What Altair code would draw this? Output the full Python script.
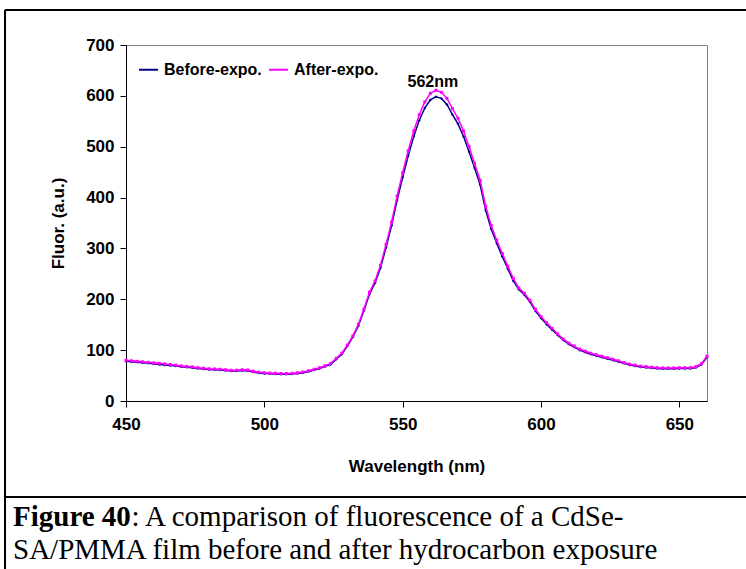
import altair as alt
import pandas as pd

# ---------------- data ----------------
wavelength = list(range(450, 661, 2))

before = [78, 77, 76, 75, 74, 73, 72, 71, 70, 69,
          67.5, 66.5, 65.5, 64, 63, 62, 61.5, 61, 60, 59,
          59, 60, 59.5, 57, 55, 54, 53.5, 53, 52.5, 52.5,
          53, 54, 55.5, 58, 61, 64, 68, 72, 82, 92,
          108, 126, 148, 178, 210, 232, 262, 302, 345, 395,
          440, 482, 520, 552, 576, 592, 598, 595, 583, 563,
          545, 520, 490, 458, 425, 375, 338, 310, 284, 260,
          236, 219, 209, 195, 177, 163, 151, 140, 130, 120,
          112, 106, 100, 96, 92, 89, 86, 83, 80, 77,
          74, 71, 69, 67, 66, 65, 64, 63.5, 63.5, 63.5,
          64, 64, 64, 66, 72, 86]

after = [80, 79, 78, 77, 76, 75, 74, 73, 72, 70.5,
         69, 68, 67, 65.5, 64.5, 63.5, 63, 62.5, 61.5, 60.5,
         60.5, 61.5, 61, 58.5, 56.5, 55.5, 55, 54.5, 54, 54,
         54.5, 55.5, 57, 59.5, 62.5, 65.5, 69.5, 74, 84, 94,
         110, 128, 151, 181, 214, 236, 267, 308, 352, 403,
         449, 492, 531, 563, 588, 605, 611, 607, 595, 575,
         556, 531, 500, 467, 434, 383, 345, 316, 290, 265,
         241, 222, 212, 198, 180, 166, 154, 143, 132, 122,
         114, 108, 102, 98, 94, 91, 88, 85, 82, 79,
         75.5, 72.5, 70.5, 68.5, 67.5, 66.5, 65.5, 65, 65, 65,
         65.5, 65.5, 65.5, 67.5, 73.5, 88]

series_names = ["Before-expo.", "After-expo."]
series_colors = ["#000080", "#FF00FF"]
series_shapes = ["diamond", "square"]

x_ticks = [450, 500, 550, 600, 650]
y_ticks = [0, 100, 200, 300, 400, 500, 600, 700]

peak_wavelength = [562]
peak_value = [628]
peak_text = ["562nm"]

caption_bold = "Figure 40"
caption_rest = ": A comparison of fluorescence of a CdSe-"
caption_line2 = "SA/PMMA film before and after hydrocarbon exposure"

# ---------------- layout ----------------
W, H = 581, 356
PAD_L, PAD_T = 126, 45
SANS = "Liberation Sans"
SERIF = "Liberation Serif"

n = len(wavelength)
df = pd.DataFrame({
    "Wavelength": wavelength * 2,
    "Fluor": before + after,
    "Series": [series_names[0]] * n + [series_names[1]] * n,
})
peak_df = pd.DataFrame({"Wavelength": peak_wavelength, "Fluor": peak_value, "label": peak_text})

x_scale = alt.Scale(domain=[450, 660], nice=False, zero=False)
y_scale = alt.Scale(domain=[0, 700], nice=False)

x_enc = alt.X("Wavelength:Q", scale=x_scale,
              axis=alt.Axis(title="Wavelength (nm)", values=x_ticks, format="d",
                            labelFont=SANS, labelFontSize=17, labelFontWeight="bold",
                            labelColor="black", labelPadding=9,
                            titleFont=SANS, titleFontSize=17, titleFontWeight="bold",
                            titleColor="black", titlePadding=26,
                            tickSize=6, tickColor="black", domainColor="black",
                            grid=False, labelFlush=False))
y_enc = alt.Y("Fluor:Q", scale=y_scale,
              axis=alt.Axis(title="Fluor. (a.u.)", values=y_ticks, format="d",
                            labelFont=SANS, labelFontSize=17, labelFontWeight="bold",
                            labelColor="black", labelPadding=6,
                            titleFont=SANS, titleFontSize=17, titleFontWeight="bold",
                            titleColor="black", titlePadding=18,
                            tickSize=6, tickColor="black", domainColor="black",
                            grid=False, labelFlush=False))
color_enc = alt.Color("Series:N",
                      scale=alt.Scale(domain=series_names, range=series_colors),
                      legend=alt.Legend(title=None, orient="none", legendX=12, legendY=14,
                                        direction="horizontal", symbolType="stroke",
                                        symbolSize=360, symbolStrokeWidth=2,
                                        labelFont=SANS, labelFontSize=16,
                                        labelFontWeight="bold", labelColor="black",
                                        labelOffset=5, columnPadding=3))

layers = []
for name, shp in zip(series_names, series_shapes):
    sub = alt.Chart(df).transform_filter(alt.datum.Series == name)
    layers.append(sub.mark_line(strokeWidth=1.5).encode(x=x_enc, y=y_enc, color=color_enc))
    layers.append(sub.mark_point(filled=True, size=9, opacity=1, shape=shp).encode(
        x=x_enc, y=y_enc, color=color_enc))

peak = alt.Chart(peak_df).mark_text(font=SANS, fontSize=16, fontWeight="bold",
                                    color="black", baseline="middle", dx=-3).encode(
    x="Wavelength:Q", y="Fluor:Q", text="label:N")

one = pd.DataFrame({"a": [0]})
border_left = alt.Chart(one).mark_rule(color="black", strokeWidth=2).encode(
    x=alt.value(5 - PAD_L), y=alt.value(10 - PAD_T), y2=alt.value(700))
border_top = alt.Chart(one).mark_rule(color="black", strokeWidth=2).encode(
    x=alt.value(5 - PAD_L), x2=alt.value(800), y=alt.value(10 - PAD_T))
separator = alt.Chart(one).mark_rule(color="black", strokeWidth=2).encode(
    x=alt.value(5 - PAD_L), x2=alt.value(800), y=alt.value(497 - PAD_T))

CAP_SIZE = 29
bold_width = 4.083 * CAP_SIZE
cap1a = alt.Chart(one).mark_text(font=SERIF, fontSize=CAP_SIZE, fontWeight="bold",
                                 align="left", baseline="alphabetic", color="black").encode(
    x=alt.value(13 - PAD_L), y=alt.value(526 - PAD_T), text=alt.value(caption_bold))
cap1b = alt.Chart(one).mark_text(font=SERIF, fontSize=CAP_SIZE, fontWeight="normal",
                                 align="left", baseline="alphabetic", color="black").encode(
    x=alt.value(13 - PAD_L + bold_width), y=alt.value(526 - PAD_T), text=alt.value(caption_rest))
cap2 = alt.Chart(one).mark_text(font=SERIF, fontSize=CAP_SIZE, fontWeight="normal",
                                align="left", baseline="alphabetic", color="black").encode(
    x=alt.value(13 - PAD_L), y=alt.value(559 - PAD_T), text=alt.value(caption_line2))

chart = alt.layer(*layers, peak, border_left, border_top, separator, cap1a, cap1b, cap2).properties(
    width=W, height=H,
    autosize=alt.AutoSizeParams(type="none"),
    padding={"left": PAD_L, "top": PAD_T, "right": 746 - PAD_L - W, "bottom": 569 - PAD_T - H},
    background="white",
).configure_view(stroke="#808080", strokeWidth=1)

chart.save("out.html", embed_options={"renderer": "svg", "actions": False})
